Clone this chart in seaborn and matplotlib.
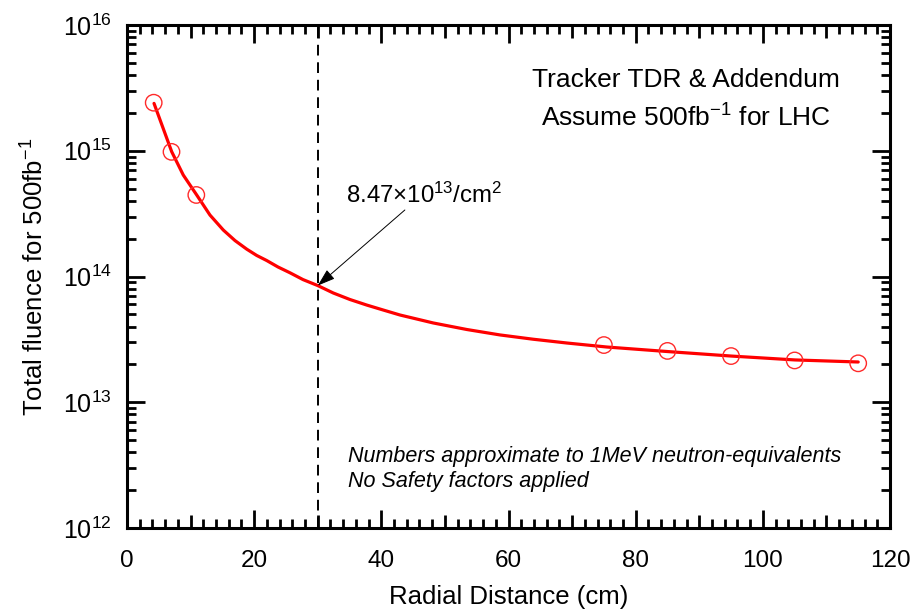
import numpy as np
import pandas as pd
import matplotlib
matplotlib.use("Agg")
import matplotlib.pyplot as plt
import seaborn as sns
from matplotlib.ticker import FixedLocator, LogLocator, NullFormatter, FixedFormatter

# Measured points (radius in cm, fluence for 500 fb^-1)
point_r = [4.2, 7.0, 10.9, 75, 85, 95, 105, 115]
point_flu = [2.41e15, 9.8e14, 4.45e14, 2.85e13, 2.56e13, 2.33e13, 2.15e13, 2.04e13]

# Fitted curve
curve_r = [4.25, 7.03, 8.85, 10.96, 13.05, 15.15, 16.99, 18.83, 20.40, 21.97,
           23.75, 25.64, 27.68, 30.0, 32.45, 35.07, 37.70, 40.26, 42.94, 48.17,
           53.43, 58.66, 63.90, 69.15, 75.44, 85.04, 95.04, 105.06, 115.0]
curve_flu = [2.38e15, 9.83e14, 6.41e14, 4.45e14, 3.08e14, 2.34e14, 1.93e14, 1.65e14,
             1.47e14, 1.34e14, 1.19e14, 1.07e14, 9.45e13, 8.47e13, 7.39e13, 6.56e13,
             5.93e13, 5.42e13, 4.94e13, 4.27e13, 3.79e13, 3.43e13, 3.17e13, 2.96e13,
             2.75e13, 2.53e13, 2.33e13, 2.17e13, 2.09e13]

marker_r = 30.0
marker_flu = 8.47e13

x_ticks = [0, 20, 40, 60, 80, 100, 120]
y_ticks = [1e12, 1e13, 1e14, 1e15, 1e16]
y_tick_labels = ["10$^{12}$", "10$^{13}$", "10$^{14}$", "10$^{15}$", "10$^{16}$"]

sns.set_theme(style="ticks")
plt.rcParams["font.family"] = ["Liberation Sans", "DejaVu Sans"]
plt.rcParams["mathtext.fontset"] = "custom"
plt.rcParams["mathtext.rm"] = "Liberation Sans"
plt.rcParams["mathtext.it"] = "Liberation Sans:italic"
plt.rcParams["mathtext.bf"] = "Liberation Sans:bold"
for k in ["text.color", "axes.labelcolor", "xtick.color", "ytick.color", "axes.edgecolor"]:
    plt.rcParams[k] = "black"

fig = plt.figure(figsize=(9.14, 6.10), dpi=100)
ax = fig.add_axes([127/914, 82/610, 763/914, 503/610])

curve_df = pd.DataFrame({"r": curve_r, "flu": curve_flu})
pts_df = pd.DataFrame({"r": point_r, "flu": point_flu})

sns.lineplot(data=curve_df, x="r", y="flu", ax=ax, color="#ff0000", lw=2.3,
             sort=False, estimator=None, zorder=3)
sns.scatterplot(data=pts_df, x="r", y="flu", ax=ax, marker="o", s=140,
                facecolors="none", edgecolors="#ff2a2a", linewidth=1.0, zorder=4)

ax.set_yscale("log")
ax.set_xlim(0, 120)
ax.set_ylim(1e12, 1e16)

ax.axvline(marker_r, color="black", lw=1.4, ls=(0, (5.5, 3.5)), zorder=2)

ax.annotate("", xy=(marker_r, marker_flu), xytext=(43.7, 3.38e14),
            arrowprops=dict(arrowstyle="-|>,head_length=0.9,head_width=0.3",
                            color="black", lw=0.7, shrinkA=0, shrinkB=0), zorder=5)
ax.text(34.4, 3.86e14, "8.47×10$^{13}$/cm$^{2}$", fontsize=17.3, ha="left",
        va="baseline", color="black")

ax.text(0.7326, 0.891, "Tracker TDR & Addendum", transform=ax.transAxes,
        fontsize=19, ha="center", va="center")
ax.text(0.7326, 0.815, "Assume 500fb$^{-1}$ for LHC", transform=ax.transAxes,
        fontsize=19, ha="center", va="center")
ax.text(0.2897, 0.143, "Numbers approximate to 1MeV neutron-equivalents",
        transform=ax.transAxes, fontsize=15.5, style="italic", ha="left", va="center")
ax.text(0.2897, 0.093, "No Safety factors applied",
        transform=ax.transAxes, fontsize=15.5, style="italic", ha="left", va="center")

ax.set_xlabel("Radial Distance (cm)", fontsize=18.5, labelpad=9)
ax.set_ylabel("Total fluence for 500fb$^{-1}$", fontsize=18.5, labelpad=10)

ax.xaxis.set_major_locator(FixedLocator(x_ticks))
ax.xaxis.set_minor_locator(FixedLocator([v for v in range(2, 120, 2) if v % 10 != 0]))
ax.yaxis.set_major_locator(FixedLocator(y_ticks))
ax.yaxis.set_major_formatter(FixedFormatter(y_tick_labels))
ax.yaxis.set_minor_locator(LogLocator(base=10, subs=np.arange(2, 10), numticks=20))
ax.yaxis.set_minor_formatter(NullFormatter())

ax.tick_params(which="major", direction="in", length=13, width=2,
               top=True, right=True, colors="black")
ax.tick_params(axis="x", which="major", labelsize=17.5, pad=16)
ax.tick_params(axis="y", which="major", labelsize=18, pad=11)
ax.tick_params(which="minor", direction="in", length=6.5, width=2,
               top=True, right=True, colors="black")

# medium ticks at 10, 30, 50, ...
mid = [10, 30, 50, 70, 90, 110]
for loc in ("bottom", "top"):
    sec = ax.secondary_xaxis(loc)
    sec.set_xticks(mid)
    sec.set_xticklabels([])
    sec.tick_params(direction="in", length=9.5, width=2, colors="black")
    sec.spines[loc].set_visible(False)

for s in ax.spines.values():
    s.set_linewidth(2.2)
    s.set_color("black")
    s.set_visible(True)

fig.savefig("out.png", dpi=100)
